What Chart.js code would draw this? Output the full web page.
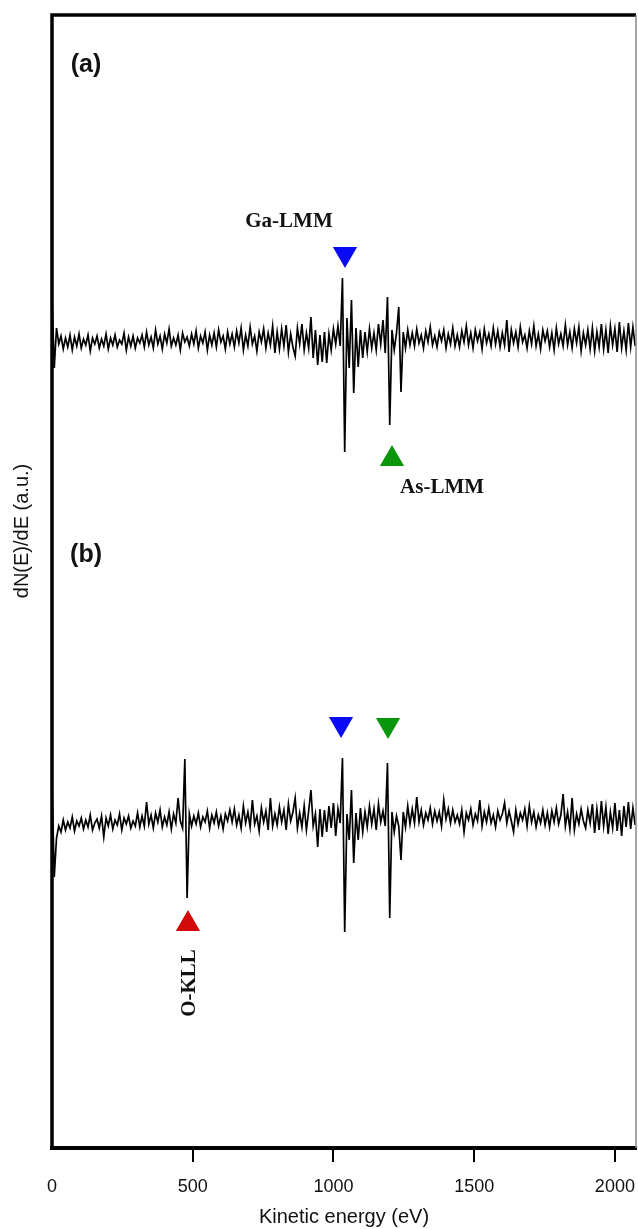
<!DOCTYPE html>
<html>
<head>
<meta charset="utf-8">
<script src="https://cdn.jsdelivr.net/npm/chart.js@4.4.1/dist/chart.umd.min.js"></script>
<style>
  html, body { margin: 0; padding: 0; background: #fff; overflow: hidden; }
  #wrap { width: 638px; height: 1229px; position: relative; }
  #aesChart { display: block; }
</style>
</head>
<body>
<div id="wrap"><canvas id="aesChart"></canvas></div>
<script>
// kinetic energy grid (eV)
const energies = [
  0, 8, 16, 24, 32, 40, 48, 56, 64, 72, 80, 88, 96, 104, 112, 120, 128, 136, 144, 152,
  160, 168, 176, 184, 192, 200, 208, 216, 224, 232, 240, 248, 256, 264, 272, 280, 288, 296, 304, 312,
  320, 328, 336, 344, 352, 360, 368, 376, 384, 392, 400, 408, 416, 424, 432, 440, 448, 456, 464, 472,
  480, 488, 496, 504, 512, 520, 528, 536, 544, 552, 560, 568, 576, 584, 592, 600, 608, 616, 624, 632,
  640, 648, 656, 664, 672, 680, 688, 696, 704, 712, 720, 728, 736, 744, 752, 760, 768, 776, 784, 792,
  800, 808, 816, 824, 832, 840, 848, 856, 864, 872, 880, 888, 896, 904, 912, 920, 928, 936, 944, 952,
  960, 968, 976, 984, 992, 1000, 1008, 1016, 1024, 1032, 1040, 1048, 1056, 1064, 1072, 1080, 1088, 1096, 1104, 1112,
  1120, 1128, 1136, 1144, 1152, 1160, 1168, 1176, 1184, 1192, 1200, 1208, 1216, 1224, 1232, 1240, 1248, 1256, 1264, 1272,
  1280, 1288, 1296, 1304, 1312, 1320, 1328, 1336, 1344, 1352, 1360, 1368, 1376, 1384, 1392, 1400, 1408, 1416, 1424, 1432,
  1440, 1448, 1456, 1464, 1472, 1480, 1488, 1496, 1504, 1512, 1520, 1528, 1536, 1544, 1552, 1560, 1568, 1576, 1584, 1592,
  1600, 1608, 1616, 1624, 1632, 1640, 1648, 1656, 1664, 1672, 1680, 1688, 1696, 1704, 1712, 1720, 1728, 1736, 1744, 1752,
  1760, 1768, 1776, 1784, 1792, 1800, 1808, 1816, 1824, 1832, 1840, 1848, 1856, 1864, 1872, 1880, 1888, 1896, 1904, 1912,
  1920, 1928, 1936, 1944, 1952, 1960, 1968, 1976, 1984, 1992, 2000, 2008, 2016, 2024, 2032, 2040, 2048, 2056, 2064, 2072
];

// spectrum (a): dN(E)/dE, a.u.
const specA = [
  40, -30, 10, -6, 2, -11, 0, -9, 3, -12, 1, -8, 4, -10, -1, -7, 3, -13, 0, -6,
  2, -10, -1, -8, 4, -11, 0, -7, 3, -9, -2, -6, 5, -12, 1, -8, 2, -10, 0, -5,
  3, -9, 6, -7, 1, -10, 8, -6, 2, -11, 4, -5, 9, -8, 0, -7, 3, -12, 5, -4,
  1, -8, 4, -6, 7, -10, 2, -5, 6, -12, 3, -7, 5, -9, 8, -4, 2, -11, 6, -6,
  4, -9, 7, -5, 10, -12, 3, -8, 11, -6, 2, -13, 6, -4, 9, -10, 5, -7, 12, -15,
  6, -11, 9, -8, 13, -14, 4, -9, -18, 10, -6, 14, -12, 5, -10, 21, -20, 8, -27, 3,
  -24, 6, -25, 4, -12, 9, -6, 12, -8, 60, -114, 20, -30, 38, -55, 10, -29, 8, -20, 6,
  -14, 9, -10, 5, -12, 14, -6, 18, -15, 41, -87, 8, -12, 5, 31, -54, 6, -10, 8, -7,
  5, -8, 9, -5, 3, -10, 7, -4, 11, -7, 2, -9, 6, -3, 8, -10, 4, -6, 10, -8,
  3, -9, 7, -4, 12, -7, 5, -10, 8, -3, 6, -11, 9, -5, 4, -8, 10, -6, 7, -9,
  5, -7, 18, -14, 8, -5, 6, -9, 11, -4, 3, -10, 7, -6, 12, -8, 4, -11, 8, -3,
  7, -9, 5, -12, 10, -6, 4, -8, 13, -7, 6, -10, 9, -5, 11, -13, 5, -7, 8, -11,
  10, -13, 6, -9, 14, -11, 8, -15, 12, -7, 9, -14, 16, -10, 7, -12, 15, -9, 11, -8
];

// spectrum (b): dN(E)/dE, a.u.
const specB = [
  35, -59, -20, -8, -14, -2, -12, -4, -10, 1, -13, -3, -8, 0, -11, -2, -9, 3, -12, -5,
  -1, -10, 2, -19, 0, -8, 3, -11, -2, -7, 4, -12, 0, -6, 2, -10, -3, -8, 5, -9,
  2, -8, 16, -6, 3, -10, 5, -4, 8, -9, 1, -7, 6, -11, 4, -5, 20, -3, -10, 59,
  -80, 4, -8, 2, -6, 5, -9, 1, -4, 7, -10, 3, -5, 6, -8, 2, -11, 4, -3, 8,
  -4, 9, -7, 3, -10, 12, -5, 6, -9, 18, -6, 2, -13, 10, -4, 7, -12, 20, -8, 4,
  -7, 11, -4, 8, -12, 14, -3, 6, 20, -10, 5, -9, 12, -12, 7, 28, -8, 4, -29, 9,
  -19, 8, -14, 12, -10, 15, -18, 9, -5, 60, -114, 4, -22, 28, -45, 5, -22, 10, -14, 6,
  -9, 12, -6, 9, -12, 14, -4, 7, -8, 55, -100, 6, -14, 2, -8, -42, 6, -9, 12, -6,
  9, -5, 21, -4, 8, -7, 5, -2, 10, -6, 7, -3, 6, -8, 18, -1, 9, -5, 8, -4,
  3, -6, 8, -14, 5, -2, 9, -7, 4, -3, 18, -8, 6, -4, 10, -5, 3, -9, 7, -2,
  4, 15, -5, 7, -3, -14, 8, -6, 5, -2, 9, -8, 12, -4, 6, -9, 3, -5, 8, -7,
  5, -9, 7, -4, 10, -6, 3, 24, -8, 6, -11, 20, -12, 4, -6, 9, -3, -10, 8, -5,
  14, -15, 9, -12, 17, -8, 11, -16, 6, -10, 15, -13, 8, -18, 12, -9, 16, -11, 10, -7
];

// vertical offsets of the stacked spectra (a.u.)
const offsetA = 810;
const offsetB = 330;

// peak markers: energy (eV) and height (a.u.)
const downBlueE = [1041, 1027];
const downBlueY = [894, 424];
const greenUpE = [1208];
const greenUpY = [689];
const greenDownE = [1194];
const greenDownY = [423];
const redUpE = [483];
const redUpY = [224];

// text labels
const labels = [
  { text: "(a)", e: 121, y: 1083, font: "bold 25px 'Liberation Sans', Arial, sans-serif", rot: 0 },
  { text: "(b)", e: 121, y: 593, font: "bold 25px 'Liberation Sans', Arial, sans-serif", rot: 0 },
  { text: "Ga-LMM", e: 842, y: 926, font: "bold 21px 'Liberation Serif', 'Times New Roman', serif", rot: 0 },
  { text: "As-LMM", e: 1386, y: 660, font: "bold 21px 'Liberation Serif', 'Times New Roman', serif", rot: 0 },
  { text: "O-KLL", e: 489, y: 165, font: "bold 21px 'Liberation Serif', 'Times New Roman', serif", rot: -Math.PI / 2 },
];

const xTicks = [0, 500, 1000, 1500, 2000];
const yTitle = "dN(E)/dE (a.u.)";

function series(values, offset) {
  return energies.map((e, i) => ({ x: e, y: offset + values[i] }));
}

function points(es, ys) {
  return es.map((e, i) => ({ x: e, y: ys[i] }));
}

const framePlugin = {
  id: "frame",
  afterDraw(chart) {
    const { ctx, chartArea } = chart;
    const { left, top, right, bottom } = chartArea;
    ctx.save();
    ctx.strokeStyle = "#000";
    ctx.lineWidth = 3.5;
    ctx.beginPath();
    ctx.moveTo(left, bottom);
    ctx.lineTo(left, top);
    ctx.lineTo(right, top);
    ctx.stroke();
    ctx.strokeStyle = "#888";
    ctx.lineWidth = 1.5;
    ctx.beginPath();
    ctx.moveTo(right, top);
    ctx.lineTo(right, bottom);
    ctx.stroke();

    // text labels
    const xs = chart.scales.x;
    const ys = chart.scales.y;
    ctx.fillStyle = "#111";
    ctx.textAlign = "center";
    ctx.textBaseline = "middle";
    labels.forEach((l) => {
      ctx.save();
      ctx.translate(xs.getPixelForValue(l.e), ys.getPixelForValue(l.y));
      ctx.rotate(l.rot);
      ctx.font = l.font;
      ctx.fillText(l.text, 0, 0);
      ctx.restore();
    });

    // y axis title
    ctx.save();
    ctx.translate(left - 30, ys.getPixelForValue(617));
    ctx.rotate(-Math.PI / 2);
    ctx.font = "20px 'Liberation Sans', Arial, sans-serif";
    ctx.fillText(yTitle, 0, 0);
    ctx.restore();
    ctx.restore();
  },
};

const sans = "'Liberation Sans', Arial, sans-serif";

new Chart(document.getElementById("aesChart"), {
  type: "line",
  data: {
    datasets: [
      {
        label: "(a)",
        data: series(specA, offsetA),
        borderColor: "#000",
        borderWidth: 1.7,
        pointRadius: 0,
        tension: 0,
      },
      {
        label: "(b)",
        data: series(specB, offsetB),
        borderColor: "#000",
        borderWidth: 1.7,
        pointRadius: 0,
        tension: 0,
      },
      {
        label: "Ga-LMM",
        data: points(downBlueE, downBlueY),
        showLine: false,
        pointStyle: "triangle",
        rotation: 180,
        pointRadius: 14,
        pointBackgroundColor: "#0a0af5",
        pointBorderWidth: 0,
      },
      {
        label: "As-LMM (a)",
        data: points(greenUpE, greenUpY),
        showLine: false,
        pointStyle: "triangle",
        pointRadius: 14,
        pointBackgroundColor: "#0a960a",
        pointBorderWidth: 0,
      },
      {
        label: "As-LMM (b)",
        data: points(greenDownE, greenDownY),
        showLine: false,
        pointStyle: "triangle",
        rotation: 180,
        pointRadius: 14,
        pointBackgroundColor: "#0a960a",
        pointBorderWidth: 0,
      },
      {
        label: "O-KLL",
        data: points(redUpE, redUpY),
        showLine: false,
        pointStyle: "triangle",
        pointRadius: 14,
        pointBackgroundColor: "#d20a0a",
        pointBorderWidth: 0,
      },
    ],
  },
  options: {
    responsive: true,
    maintainAspectRatio: false,
    animation: false,
    layout: { autoPadding: false, padding: { left: 52, top: 15, right: 2, bottom: 0 } },
    plugins: {
      legend: { display: false },
      tooltip: { enabled: false },
    },
    scales: {
      x: {
        type: "linear",
        min: 0,
        max: 2075,
        afterBuildTicks: (scale) => {
          scale.ticks = xTicks.map((v) => ({ value: v }));
        },
        afterFit: (scale) => {
          scale.height = 81;
          scale.paddingLeft = 0;
          scale.paddingRight = 0;
        },
        border: { display: true, color: "#000", width: 4 },
        grid: {
          drawOnChartArea: false,
          drawTicks: true,
          tickLength: 14,
          lineWidth: 2,
          color: (ctx) => (ctx.tick && ctx.tick.value === 0 ? "rgba(0,0,0,0)" : "#000"),
        },
        ticks: {
          autoSkip: false,
          maxRotation: 0,
          padding: 14,
          color: "#111",
          font: { family: sans, size: 18 },
          callback: (v) => String(v),
        },
        title: {
          display: true,
          text: "Kinetic energy (eV)",
          color: "#111",
          font: { family: sans, size: 20 },
          padding: { top: 10, bottom: 0 },
        },
      },
      y: {
        display: false,
        min: 0,
        max: 1133,
      },
    },
  },
  plugins: [framePlugin],
});
</script>
</body>
</html>
